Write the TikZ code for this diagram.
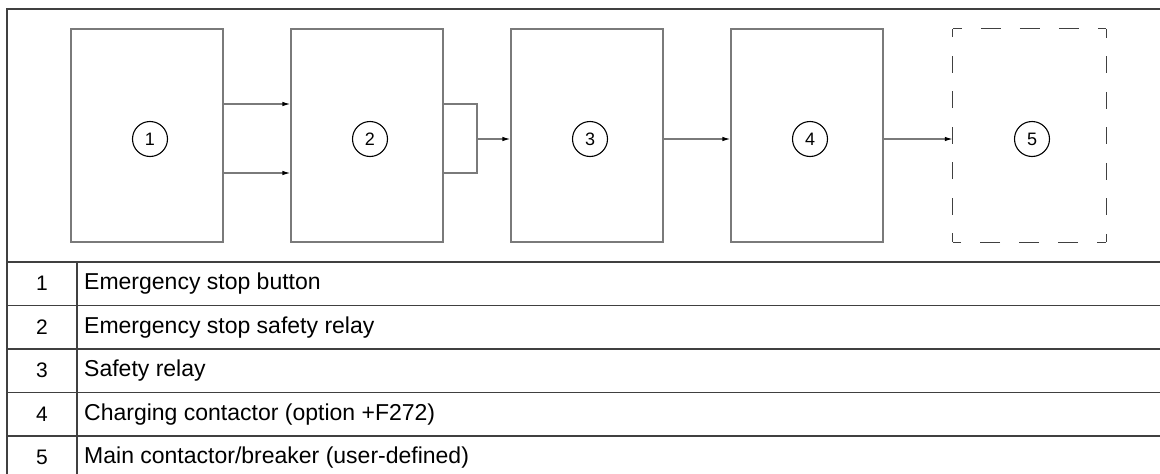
\documentclass[tikz,border=0pt]{standalone}
\usepackage{fontspec}
\setmainfont{Liberation Sans}
\usetikzlibrary{arrows.meta}
\definecolor{wiregray}{HTML}{7A7A7A}
\definecolor{framegray}{HTML}{404040}
\tikzset{
  blk/.style={draw=wiregray, line width=1.2pt, minimum width=152pt, minimum height=213pt, inner sep=0pt},
  ghost/.style={minimum width=153pt, minimum height=213pt, inner sep=0pt},
  num/.style={draw=black, circle, line width=1.1pt, minimum size=35pt, inner sep=0pt, font=\fontsize{18}{20}\selectfont},
  wire/.style={draw=wiregray, line width=1.2pt},
  arr/.style={wire, -{Latex[length=8pt,width=4.5pt,color=black]}},
  hdash/.style={draw=framegray, line width=1.2pt, dash pattern=on 20pt off 19pt, dash phase=11pt},
  vdash/.style={draw=framegray, line width=1.2pt, dash pattern=on 17pt off 18.5pt, dash phase=8pt},
  frame/.style={draw=framegray, line width=1.6pt},
  idx/.style={font=\fontsize{21}{24}\selectfont},
  desc/.style={anchor=west, inner sep=0pt, font=\fontsize{23}{26}\selectfont},
}
\begin{document}
\begin{tikzpicture}[x=1pt, y=-1pt]
\useasboundingbox (0,0) rectangle (1160,474);
% blocks
\node[blk] (b1) at (147,135.5) {};
\node[blk] (b2) at (367,135.5) {};
\node[blk] (b3) at (587,135.5) {};
\node[blk] (b4) at (807,135.5) {};
\node[ghost] (b5) at (1029.5,135.5) {};
\draw[hdash] (b5.north west) -- (b5.north east);
\draw[hdash] (b5.south east) -- (b5.south west);
\draw[vdash] (b5.north east) -- (b5.south east);
\draw[vdash] (b5.south west) -- (b5.north west);
\node[num] (n1) at (150,139) {1};
\node[num] (n2) at (370,139) {2};
\node[num] (n3) at (590,139) {3};
\node[num] (n4) at (810,139) {4};
\node[num] (n5) at (1032,139) {5};
% connections
\coordinate (j) at (477,139);
\draw[arr] (b1.east |- 0,104) -- (b2.west |- 0,104);
\draw[arr] (b1.east |- 0,173) -- (b2.west |- 0,173);
\draw[wire] (b2.east |- 0,104) -| (j) |- (b2.east |- 0,173);
\draw[arr] (j) -- (b3.west |- j);
\draw[arr] (b3.east |- j) -- (b4.west |- j);
\draw[arr] (b4.east |- j) -- (b5.west |- j);
% legend table
\draw[frame] (7,9) rectangle (1165,480);
\draw[frame] (7,262) -- (1165,262);
\draw[frame] (7,305.5) -- (1165,305.5);
\draw[frame] (7,349) -- (1165,349);
\draw[frame] (7,392.5) -- (1165,392.5);
\draw[frame] (7,436) -- (1165,436);
\draw[frame] (77,262) -- (77,480);
\node[idx] (k1) at (42,283.75) {1};
\node[idx] (k2) at (42,327.25) {2};
\node[idx] (k3) at (42,370.75) {3};
\node[idx] (k4) at (42,414.25) {4};
\node[idx] (k5) at (42,457.75) {5};
\node[desc] (t1) at (84,283.75) {Emergency stop button};
\node[desc] (t2) at (84,327.25) {Emergency stop safety relay};
\node[desc] (t3) at (84,370.75) {Safety relay};
\node[desc] (t4) at (84,414.25) {Charging contactor (option +F272)};
\node[desc] (t5) at (84,457.75) {Main contactor/breaker (user-defined)};
\end{tikzpicture}
\end{document}
